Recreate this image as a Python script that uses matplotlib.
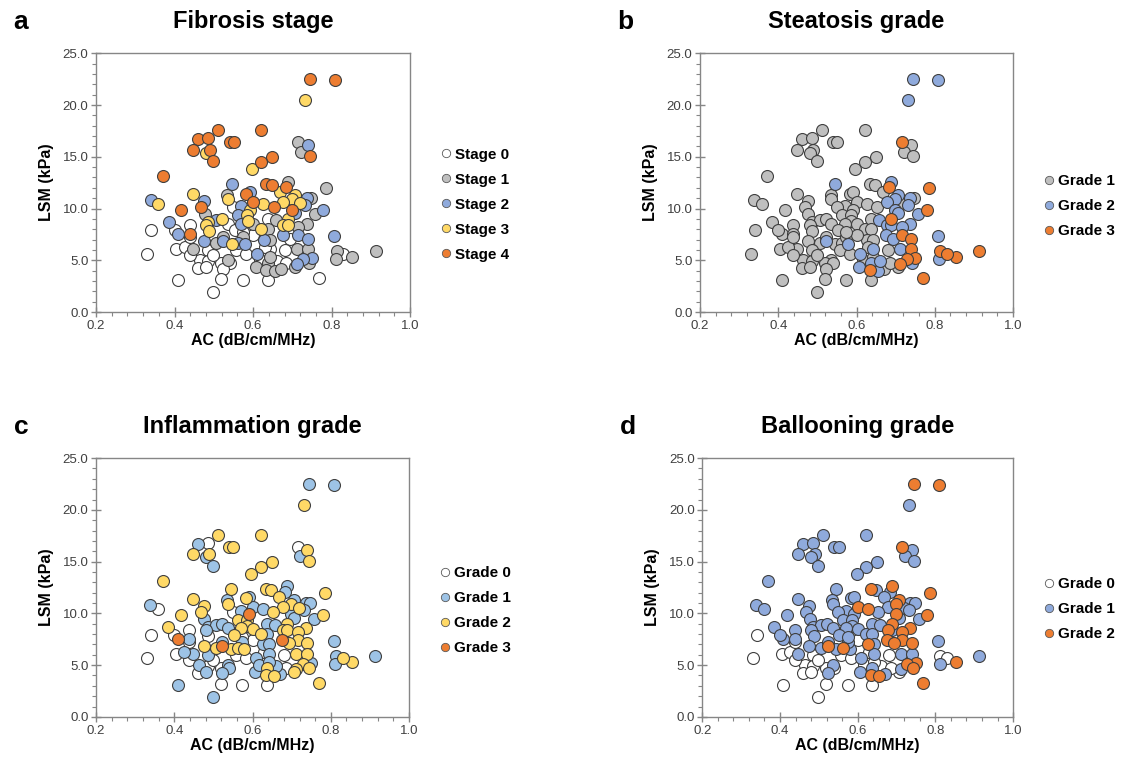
import matplotlib.pyplot as plt
import matplotlib.ticker as mticker
from matplotlib.lines import Line2D

plt.rcParams['font.family'] = ['Liberation Sans', 'DejaVu Sans']

# AC (dB/cm/MHz) and LSM (kPa), one entry per patient
ac = [0.745, 0.809, 0.732, 0.511, 0.621, 0.460, 0.485, 0.540, 0.551, 0.447,
      0.489, 0.481, 0.498, 0.715, 0.740, 0.722, 0.745, 0.649, 0.621, 0.597,
      0.370, 0.545, 0.689, 0.634, 0.647, 0.683, 0.786, 0.668, 0.447, 0.534,
      0.536, 0.583, 0.591, 0.706, 0.698, 0.339, 0.359, 0.475, 0.600, 0.677,
      0.736, 0.748, 0.719, 0.732, 0.468, 0.626, 0.653, 0.698, 0.417, 0.570,
      0.549, 0.591, 0.779, 0.757, 0.477, 0.562, 0.585, 0.706, 0.385, 0.340,
      0.438, 0.485, 0.506, 0.522, 0.481, 0.487, 0.586, 0.570, 0.600, 0.621,
      0.638, 0.658, 0.638, 0.689, 0.677, 0.689, 0.736, 0.715, 0.536, 0.553,
      0.409, 0.438, 0.400, 0.475, 0.506, 0.523, 0.545, 0.562, 0.579, 0.574,
      0.523, 0.675, 0.715, 0.740, 0.807, 0.627, 0.643, 0.694, 0.600, 0.447,
      0.330, 0.404, 0.426, 0.485, 0.609, 0.643, 0.711, 0.740, 0.813, 0.853,
      0.913, 0.811, 0.830, 0.749, 0.728, 0.711, 0.743, 0.536, 0.464, 0.485,
      0.519, 0.540, 0.460, 0.481, 0.523, 0.607, 0.638, 0.634, 0.655, 0.671,
      0.706, 0.617, 0.660, 0.685, 0.409, 0.519, 0.574, 0.638, 0.769, 0.498,
      0.438, 0.557, 0.583, 0.630, 0.681, 0.574, 0.498, 0.438, 0.643]

lsm = [22.5, 22.4, 20.5, 17.6, 17.6, 16.7, 16.8, 16.4, 16.4, 15.7,
       15.7, 15.4, 14.6, 16.4, 16.1, 15.5, 15.1, 15.0, 14.5, 13.8,
       13.1, 12.4, 12.6, 12.35, 12.25, 12.1, 12.0, 11.6, 11.4, 11.3,
       10.9, 11.45, 11.55, 11.3, 10.9, 10.8, 10.4, 10.7, 10.65, 10.65,
       11.0, 11.0, 10.5, 10.3, 10.1, 10.4, 10.15, 9.9, 9.85, 10.2,
       10.15, 9.9, 9.85, 9.5, 9.5, 9.4, 9.35, 9.6, 8.65, 7.9,
       8.4, 8.7, 8.85, 9.0, 8.4, 7.85, 8.8, 8.55, 8.5, 8.05,
       8.95, 8.9, 8.05, 9.0, 8.4, 8.4, 8.55, 8.2, 8.55, 7.9,
       7.5, 7.5, 7.9, 6.85, 6.7, 6.85, 6.6, 6.7, 6.6, 7.25,
       7.25, 7.4, 7.4, 7.1, 7.3, 7.0, 7.0, 7.1, 7.4, 6.05,
       5.65, 6.1, 6.3, 5.95, 5.65, 6.1, 6.1, 6.1, 5.85, 5.3,
       5.85, 5.15, 5.65, 5.25, 5.15, 4.6, 4.7, 5.05, 5.0, 4.9,
       4.7, 4.7, 4.25, 4.35, 4.2, 4.35, 4.7, 4.05, 3.95, 4.15,
       4.35, 5.05, 4.95, 4.7, 3.05, 3.2, 3.05, 3.05, 3.25, 1.95,
       7.25, 5.95, 5.65, 6.3, 5.95, 7.75, 5.5, 5.5, 5.3]

fibrosis = [4, 4, 3, 4, 4, 4, 4, 4, 4, 4,
            4, 3, 4, 1, 2, 1, 4, 4, 4, 3,
            4, 2, 1, 4, 4, 4, 1, 3, 3, 1,
            3, 4, 2, 3, 3, 2, 3, 2, 4, 3,
            2, 1, 3, 2, 4, 3, 4, 4, 4, 2,
            0, 3, 2, 1, 1, 2, 3, 2, 2, 0,
            0, 3, 2, 3, 3, 3, 3, 2, 1, 3,
            0, 1, 1, 3, 3, 3, 1, 1, 0, 0,
            2, 4, 0, 2, 1, 2, 3, 2, 2, 1,
            1, 2, 2, 2, 2, 2, 1, 0, 0, 1,
            0, 0, 0, 0, 2, 0, 1, 1, 1, 1,
            1, 1, 0, 2, 2, 2, 1, 1, 0, 0,
            0, 0, 0, 0, 0, 1, 1, 1, 1, 1,
            1, 0, 0, 0, 0, 0, 0, 0, 0, 0,
            0, 0, 0, 0, 0, 0, 0, 0, 1]

steatosis = [2, 2, 2, 1, 1, 1, 1, 1, 1, 1,
             1, 1, 1, 3, 1, 1, 1, 1, 1, 1,
             1, 2, 2, 1, 1, 3, 3, 1, 1, 1,
             1, 1, 1, 2, 2, 1, 1, 1, 1, 2,
             2, 1, 1, 2, 1, 1, 1, 2, 1, 1,
             1, 1, 3, 2, 1, 1, 1, 2, 1, 1,
             1, 1, 1, 1, 1, 1, 1, 1, 1, 1,
             1, 2, 1, 3, 2, 2, 2, 2, 1, 1,
             1, 1, 1, 1, 1, 2, 1, 1, 2, 1,
             1, 2, 3, 3, 2, 1, 1, 2, 1, 1,
             1, 1, 1, 1, 2, 2, 2, 3, 3, 3,
             3, 2, 3, 3, 3, 3, 2, 1, 1, 1,
             1, 1, 1, 1, 1, 2, 2, 3, 2, 1,
             1, 1, 2, 1, 1, 1, 1, 1, 3, 1,
             1, 1, 1, 1, 1, 1, 1, 1, 1]

inflammation = [1, 1, 2, 2, 2, 1, 0, 2, 2, 2,
                2, 1, 1, 0, 2, 1, 2, 2, 2, 2,
                2, 2, 1, 2, 2, 1, 2, 2, 2, 1,
                2, 2, 1, 1, 2, 1, 0, 2, 1, 2,
                1, 1, 2, 1, 2, 1, 2, 1, 2, 1,
                0, 3, 2, 1, 1, 2, 2, 1, 2, 0,
                0, 1, 1, 1, 1, 0, 2, 2, 2, 2,
                1, 1, 1, 2, 2, 2, 2, 2, 1, 2,
                3, 1, 0, 2, 2, 3, 2, 2, 2, 1,
                1, 3, 2, 2, 1, 1, 1, 2, 0, 1,
                0, 0, 1, 1, 1, 1, 2, 2, 1, 2,
                1, 1, 2, 1, 2, 2, 2, 1, 1, 0,
                0, 1, 0, 1, 1, 1, 2, 2, 2, 1,
                2, 1, 1, 0, 1, 0, 0, 0, 2, 1,
                0, 0, 0, 0, 0, 0, 0, 0, 1]

ballooning = [2, 2, 1, 1, 1, 1, 1, 1, 1, 1,
              1, 1, 1, 2, 1, 1, 1, 1, 1, 1,
              1, 1, 2, 2, 1, 1, 2, 1, 1, 1,
              1, 1, 1, 2, 2, 1, 1, 1, 2, 1,
              1, 1, 1, 1, 1, 2, 1, 2, 1, 1,
              1, 1, 2, 1, 1, 1, 1, 1, 1, 0,
              1, 1, 1, 1, 1, 1, 1, 1, 1, 1,
              1, 1, 1, 2, 2, 1, 2, 2, 1, 1,
              1, 1, 1, 1, 1, 2, 1, 2, 1, 1,
              1, 2, 2, 2, 1, 2, 1, 2, 0, 1,
              0, 0, 0, 0, 1, 1, 1, 1, 0, 2,
              1, 1, 0, 2, 2, 1, 2, 1, 0, 0,
              0, 0, 0, 0, 1, 1, 1, 2, 2, 1,
              0, 0, 0, 0, 0, 0, 0, 0, 2, 0,
              0, 0, 0, 0, 0, 1, 0, 0, 0]

# Colors
WHITE = '#FFFFFF'
GRAY = '#BFBFBF'
BLUE = '#8FAADC'
LIGHT_BLUE = '#9DC3E6'
YELLOW = '#FFD966'
ORANGE = '#ED7D31'
EDGE = '#3F3F3F'
AXIS_GRAY = '#868686'
TEXT_GRAY = '#404040'

panels = [
    ('a', 'Fibrosis stage', fibrosis, [0, 1, 2, 3, 4], 'Stage',
     [WHITE, GRAY, BLUE, YELLOW, ORANGE], [0.085, 0.590, 0.278, 0.340], 0.415),
    ('b', 'Steatosis grade', steatosis, [1, 2, 3], 'Grade',
     [GRAY, BLUE, ORANGE], [0.6195, 0.590, 0.277, 0.340], 0.41),
    ('c', 'Inflammation grade', inflammation, [0, 1, 2, 3], 'Grade',
     [WHITE, LIGHT_BLUE, YELLOW, ORANGE], [0.085, 0.058, 0.277, 0.340], 0.41),
    ('d', 'Ballooning grade', ballooning, [0, 1, 2], 'Grade',
     [WHITE, BLUE, ORANGE], [0.6215, 0.058, 0.275, 0.340], 0.415),
]

fig = plt.figure(figsize=(11.3, 7.61), dpi=100)

for letter, title, labels, classes, prefix, colors, rect, leg_y in panels:
    ax = fig.add_axes(rect)
    handles = []
    for cls, col in zip(classes, colors):
        xs = [x for x, c in zip(ac, labels) if c == cls]
        ys = [y for y, c in zip(lsm, labels) if c == cls]
        ax.scatter(xs, ys, s=74, c=col, edgecolors=EDGE, linewidths=0.8, zorder=3)
        handles.append(Line2D([], [], marker='o', linestyle='', markersize=6,
                              markerfacecolor=col, markeredgecolor='#595959',
                              markeredgewidth=0.6, label=f'{prefix} {cls}'))

    ax.set_xlim(0.2, 1.0)
    ax.set_ylim(0, 25)
    ax.xaxis.set_major_locator(mticker.MultipleLocator(0.2))
    ax.xaxis.set_minor_locator(mticker.MultipleLocator(0.04))
    ax.yaxis.set_major_locator(mticker.MultipleLocator(5))
    ax.yaxis.set_minor_locator(mticker.MultipleLocator(1))
    ax.xaxis.set_major_formatter(mticker.FormatStrFormatter('%.1f'))
    ax.yaxis.set_major_formatter(mticker.FormatStrFormatter('%.1f'))
    ax.tick_params(which='major', direction='inout', length=7, width=1,
                   color=AXIS_GRAY, labelcolor=TEXT_GRAY, labelsize=9.5, pad=2)
    ax.tick_params(which='minor', direction='out', length=3, width=0.8, color=AXIS_GRAY)
    for sp in ax.spines.values():
        sp.set_color(AXIS_GRAY)
        sp.set_linewidth(1.0)

    ax.set_xlabel('AC (dB/cm/MHz)', fontsize=11.5, fontweight='bold', labelpad=1)
    ax.set_ylabel('LSM (kPa)', fontsize=11.5, fontweight='bold', labelpad=6)
    ax.set_title(title, fontsize=17, fontweight='bold', pad=18)

    ax.legend(handles=handles, loc='center left', bbox_to_anchor=(1.08, leg_y),
              frameon=False, handlelength=0.6, handletextpad=0.3, labelspacing=0.72,
              borderaxespad=0, prop={'weight': 'bold', 'size': 11})

    pos = ax.get_position()
    fig.text(pos.x0 - 0.073, pos.y1 + 0.041, letter, fontsize=19,
             fontweight='bold', ha='left', va='center')

fig.savefig('out.png', dpi=100)
